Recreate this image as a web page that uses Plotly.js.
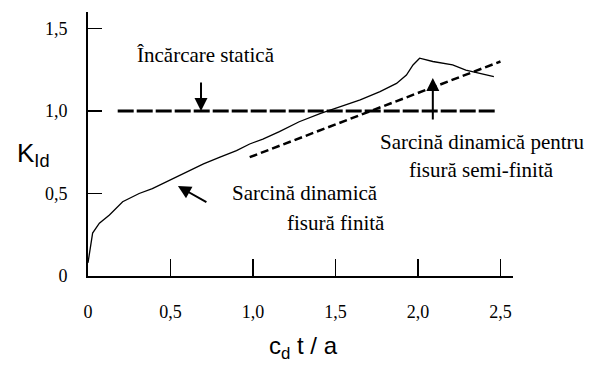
<!DOCTYPE html>
<html><head><meta charset="utf-8">
<script src="https://cdn.plot.ly/plotly-3.0.1.min.js"></script>
<style>body{margin:0;background:#fff}#c{width:596px;height:365px}</style>
</head><body><div id="c"></div>
<script>
// Finite crack dynamic load curve
const finiteX = [0, 0.028, 0.069, 0.13, 0.21, 0.31, 0.39, 0.49, 0.59, 0.70, 0.80, 0.90, 0.98, 1.06, 1.16, 1.28, 1.41, 1.53, 1.65, 1.77, 1.87, 1.93, 1.97, 2.01, 2.09, 2.21, 2.29, 2.46];
const finiteY = [0.08, 0.26, 0.32, 0.37, 0.45, 0.50, 0.53, 0.58, 0.63, 0.68, 0.72, 0.76, 0.80, 0.83, 0.875, 0.935, 0.986, 1.026, 1.067, 1.117, 1.167, 1.218, 1.279, 1.32, 1.30, 1.279, 1.248, 1.208];
// Semi-infinite crack dynamic load (dashed)
const semiX = [0.98, 2.50];
const semiY = [0.72, 1.30];
// Static load
const staticX = [0.18, 2.48];
const staticY = [1.0, 1.0];
// Ticks
const xTickVals = [0, 0.5, 1.0, 1.5, 2.0, 2.5];
const xTickText = ['0', '0,5', '1,0', '1,5', '2,0', '2,5'];
const yTickVals = [0, 0.5, 1.0, 1.5];
const yTickText = ['0', '0,5', '1,0', '1,5'];

const serif = 'Liberation Serif, serif';
const sans = 'Liberation Sans, Arial, sans-serif';

const traces = [
  {x: finiteX, y: finiteY, mode: 'lines', line: {color: '#000', width: 1.3}, hoverinfo: 'skip'},
  {x: semiX, y: semiY, mode: 'lines', line: {color: '#000', width: 2.5, dash: '8px,4px'}, hoverinfo: 'skip'},
  {x: staticX, y: staticY, mode: 'lines', line: {color: '#000', width: 3, dash: '16px,3px'}, hoverinfo: 'skip'}
];

const tf = {family: serif, size: 21, color: '#000'};
const layout = {
  width: 596, height: 365,
  margin: {l: 88, r: 83, t: 12, b: 89},
  paper_bgcolor: '#fff', plot_bgcolor: '#fff',
  showlegend: false,
  xaxis: {
    range: [0, 2.576], showgrid: false, zeroline: false,
    showline: true, linecolor: '#000', linewidth: 2,
    ticks: 'inside', ticklen: 17, tickwidth: 1.5, tickcolor: '#000',
    tickvals: xTickVals, ticktext: xTickText,
    tickfont: {family: serif, size: 18, color: '#000'},
    ticklabelstandoff: 18
  },
  yaxis: {
    range: [0, 1.6], showgrid: false, zeroline: false,
    showline: true, linecolor: '#000', linewidth: 2,
    ticks: 'inside', ticklen: 14, tickwidth: 1.5, tickcolor: '#000',
    tickvals: yTickVals, ticktext: yTickText,
    tickfont: {family: serif, size: 18, color: '#000'},
    ticklabelstandoff: 15
  },
  annotations: [
    {xref: 'paper', yref: 'paper', x: -0.172, y: 0.46, text: 'K<sub>Id</sub>', showarrow: false,
     font: {family: sans, size: 26, color: '#000'}},
    {xref: 'paper', yref: 'paper', x: 0.506, y: -0.27, yanchor: 'middle', text: 'c<sub>d</sub> t / a', showarrow: false,
     font: {family: sans, size: 24, color: '#000'}},
    {x: 0.715, y: 1.34, text: 'Încărcare statică', showarrow: false, font: tf},
    {x: 0.685, y: 1.0, ax: 0, ay: -30, text: '', showarrow: true, arrowhead: 2, arrowsize: 1.3, arrowwidth: 2, arrowcolor: '#000'},
    {x: 2.09, y: 1.20, ax: 0, ay: 43, text: '', showarrow: true, arrowhead: 2, arrowsize: 1.3, arrowwidth: 2, arrowcolor: '#000'},
    {x: 0.545, y: 0.545, ax: 30, ay: 17, text: '', showarrow: true, arrowhead: 2, arrowsize: 1.3, arrowwidth: 2, arrowcolor: '#000'},
    {x: 2.39, y: 0.81, text: 'Sarcină dinamică pentru', showarrow: false, font: tf},
    {x: 2.385, y: 0.645, text: 'fisură semi-finită', showarrow: false, font: tf},
    {x: 1.77, y: 0.503, xanchor: 'right', text: 'Sarcină dinamică', showarrow: false, font: tf},
    {x: 1.81, y: 0.32, xanchor: 'right', text: 'fisură finită', showarrow: false, font: tf}
  ]
};
Plotly.newPlot('c', traces, layout, {staticPlot: true, displayModeBar: false});
</script>
</body></html>
